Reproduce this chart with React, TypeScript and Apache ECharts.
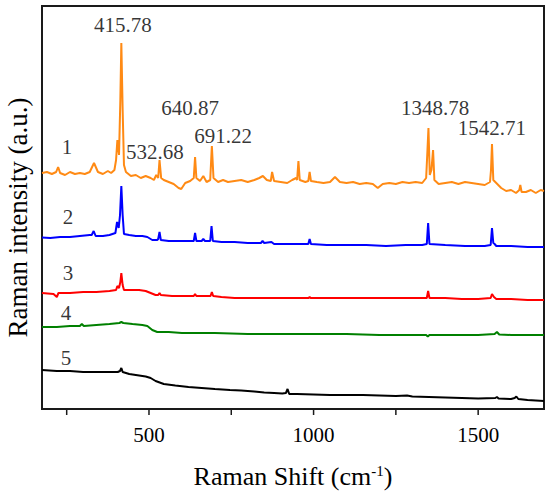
import React, { useEffect, useRef } from "react";
import * as echarts from "echarts";

// Spectrum 1 (orange)
const shift1 = [175,190,205,218,224,230,245,260,275,290,305,320,333,345,360,375,385,395,400,404,409,413,416,420,424,430,445,460,475,490,505,515,522,528,532,537,545,560,575,590,598,610,625,636,640,644,655,665,675,686,691,696,710,725,740,760,780,800,820,835,846,858,870,874,880,900,920,935,947,950,954,958,975,984,988,992,1010,1030,1050,1065,1080,1100,1120,1140,1160,1180,1195,1210,1230,1250,1270,1290,1310,1330,1342,1346,1349,1353,1358,1363,1367,1380,1400,1420,1440,1460,1480,1500,1520,1536,1539,1542,1546,1555,1570,1585,1600,1615,1625,1628,1632,1645,1660,1675,1690,1700];
const int1 = [236,237,235,237,242,236,234,237,235,236,235,237,246,237,235,238,236,239,249,269,254,309,366,299,244,237,233,234,231,233,231,229,234,231,249,231,229,227,225,221,220,226,228,231,252,231,228,233,227,229,263,231,227,229,227,228,229,227,229,231,233,229,228,237,228,227,226,229,231,229,248,229,227,228,237,228,227,226,227,232,227,226,227,225,226,225,221,225,226,225,227,226,227,226,231,259,281,234,239,259,229,225,226,227,225,227,226,225,224,227,239,265,229,226,221,218,219,216,219,224,217,217,219,216,219,218];

// Spectrum 2 (blue)
const shift2 = [175,200,230,260,290,320,326,332,338,360,380,398,403,408,412,416,420,424,440,460,480,495,510,525,528,532,536,560,590,620,636,640,644,660,665,670,686,690,694,720,760,800,840,845,850,872,880,920,960,984,988,992,1040,1100,1160,1220,1280,1330,1344,1348,1352,1400,1460,1520,1538,1542,1546,1550,1555,1600,1650,1700];
const int2 = [171.5,171,172,172,173,174,174,178,173,173,174,176,187,181,194,223,194,175,174,173,173,172,169,169,170,177,169,168,168,168,168,176,168,168,170,168,168,183,168,167,167,166,166,168,166,167,165,165,165,165,170,165,164,164,164,163,164,164,165,186,165,164,163,163,164,181,166,165,163,163,162,162];

// Spectrum 3 (red)
const shift3 = [175,210,220,225,260,300,340,380,400,404,409,413,416,420,424,440,470,490,505,520,528,532,536,570,600,636,640,644,670,687,691,695,720,760,800,850,900,985,988,991,1050,1100,1150,1200,1250,1300,1344,1348,1352,1400,1450,1500,1538,1542,1548,1555,1600,1650,1700];
const int3 = [116,115,112,116,116,117,117,118,119,123,121,127,136,124,119,119,119,118,116,114,114,116,114,113,113,113,115,113,113,113,117,113,112,111,111,111,111,111,112,111,111,111,111,111,111,111,111,118,111,111,110,110,111,115,112,110,110,109,109];

// Spectrum 4 (green)
const shift4 = [175,220,260,290,296,302,340,380,410,416,422,450,480,495,510,525,560,600,700,800,900,1000,1100,1200,1300,1342,1347,1352,1400,1500,1550,1557,1564,1600,1700];
const int4 = [82,82,83,83,85,83,84,85,86,87,86,85,84,83,79,77,77,76,76,75,75,75,75,74,74,74,72.5,74,74,74,75,77,74.5,74,74];

// Spectrum 5 (black)
const shift5 = [175,220,260,300,340,380,405,412,416,420,440,470,490,505,520,545,580,620,660,700,746,780,820,850,880,905,916,921,926,950,1000,1050,1100,1150,1200,1250,1284,1300,1350,1400,1450,1500,1552,1557,1562,1600,1611,1616,1622,1650,1700];
const int5 = [39,38,38,37,37,37,37,38,41,37,35,33.5,32.5,31,28,25,23.5,22,21,20,19,18.5,17.5,16.5,16,15.5,16,20,15,15,14.5,14,14,14,13.5,13,13.5,12.5,12,11.5,11,10.5,11,12,10.5,10,11,12.5,10,9,8];

// Peak annotations
const peakTexts = ["415.78", "532.68", "640.87", "691.22", "1348.78", "1542.71"];
const peakShift = [421, 518, 625, 725, 1369, 1542];
const peakIntensity = [384, 257, 301, 273, 301, 281];

// Spectrum numbers
const numberTexts = ["1", "2", "3", "4", "5"];
const numberShift = [251, 254, 254, 248, 248];
const numberIntensity = [262, 192, 136, 96, 51];

// Axes
const xMin = 175;
const xMax = 1700;
const yMin = 0;
const yMax = 403;
const tickValues = [250, 500, 750, 1000, 1250, 1500];
const labelValues = [500, 1000, 1500];
const TICK_LEN = 6;

const FONT = "Liberation Serif";
const AXIS_COLOR = "#1a1a1a";

function zip(xs: number[], ys: number[]) {
  return xs.map((x, i) => [x, ys[i]]);
}

export default function App() {
  const ref = useRef<HTMLDivElement>(null);
  useEffect(() => {
    document.body.style.margin = "0";
    if (!ref.current) return;
    const chart = echarts.init(ref.current, null, { renderer: "svg" });
    const spectra = [
      { s: shift1, v: int1, c: "#FF8A14" },
      { s: shift2, v: int2, c: "#0000FF" },
      { s: shift3, v: int3, c: "#FF0000" },
      { s: shift4, v: int4, c: "#008000" },
      { s: shift5, v: int5, c: "#000000" },
    ];
    const lineSeries = spectra.map((sp, i) => ({
      type: "line",
      name: "s" + (i + 1),
      data: zip(sp.s, sp.v),
      showSymbol: false,
      symbol: "none",
      lineStyle: { color: sp.c, width: 2 },
      itemStyle: { color: sp.c },
    }));
    // Plot frame (top and right edges) drawn as a series through the axes' scales
    const frameSeries = {
      type: "line",
      name: "frame",
      data: [
        [xMin, yMin],
        [xMin, yMax],
        [xMax, yMax],
        [xMax, yMin],
        [xMin, yMin],
      ],
      showSymbol: false,
      symbol: "none",
      clip: false,
      lineStyle: { color: AXIS_COLOR, width: 2 },
      itemStyle: { color: AXIS_COLOR },
      z: 3,
    };
    // Outward tick marks on the x axis
    const tickSeries = tickValues.map((v) => ({
      type: "line",
      name: "tick" + v,
      data: [
        [v, yMin],
        [v, yMin - TICK_LEN],
      ],
      showSymbol: false,
      symbol: "none",
      clip: false,
      lineStyle: { color: AXIS_COLOR, width: 1.5 },
      itemStyle: { color: AXIS_COLOR },
      z: 3,
    }));
    const textSeries = (texts: string[], xs: number[], ys: number[]) => ({
      type: "scatter",
      symbolSize: 1,
      itemStyle: { color: "rgba(0,0,0,0)" },
      data: texts.map((t, i) => [xs[i], ys[i], t]),
      label: {
        show: true,
        position: "inside",
        formatter: (p: any) => p.data[2],
        color: "#000000",
        fontSize: 21,
        fontFamily: FONT,
      },
      silent: true,
    });
    chart.setOption({
      animation: false,
      textStyle: { fontFamily: FONT },
      grid: {
        left: 42,
        right: 6,
        top: 6,
        bottom: 87,
        show: true,
        borderColor: AXIS_COLOR,
        borderWidth: 2,
        backgroundColor: "rgba(255,255,255,0)",
      },
      xAxis: {
        type: "value",
        min: xMin,
        max: xMax,
        axisLine: { show: true, onZero: false, lineStyle: { color: AXIS_COLOR, width: 2 } },
        axisTick: { show: false },
        axisLabel: { show: false },
        splitLine: { show: false },
        name: "{n|Raman Shift (cm}{s|-1}{n|)}",
        nameLocation: "middle",
        nameGap: 54,
        nameTextStyle: {
          fontFamily: FONT,
          rich: {
            n: { fontSize: 26, fontFamily: FONT, color: "#000000" },
            s: { fontSize: 15, fontFamily: FONT, color: "#000000", padding: [0, 0, 12, 0] },
          },
        },
      },
      yAxis: {
        type: "value",
        min: yMin,
        max: yMax,
        axisLine: { show: true, onZero: false, lineStyle: { color: AXIS_COLOR, width: 2 } },
        axisTick: { show: false },
        axisLabel: { show: false },
        splitLine: { show: false },
      },
      series: [
        frameSeries,
        ...tickSeries,
        ...lineSeries,
        textSeries(peakTexts, peakShift, peakIntensity),
        textSeries(numberTexts, numberShift, numberIntensity),
      ],
    } as any);

    // Tick labels and y-axis title placed through the chart's own scales
    const px = (v: number) => chart.convertToPixel({ xAxisIndex: 0 }, v) as number;
    const py = (v: number) => chart.convertToPixel({ yAxisIndex: 0 }, v) as number;
    const yTop = py(yMax);
    const yBot = py(yMin);
    const graphics: any[] = [];
    labelValues.forEach((v) => {
      graphics.push({
        type: "text",
        x: px(v),
        y: yBot + 26,
        style: { text: String(v), fontSize: 21, fontFamily: FONT, fill: "#000000", align: "center", verticalAlign: "middle" },
        silent: true,
      });
    });
    graphics.push({
      type: "text",
      x: 18,
      y: (yTop + yBot) / 2 + 10,
      rotation: Math.PI / 2,
      style: {
        text: "Raman intensity (a.u.)",
        fontSize: 27,
        fontFamily: FONT,
        fill: "#000000",
        align: "center",
        verticalAlign: "middle",
      },
      silent: true,
    });
    chart.setOption({ graphic: graphics } as any);
    return () => chart.dispose();
  }, []);
  return <div ref={ref} style={{ width: 550, height: 496 }} />;
}
